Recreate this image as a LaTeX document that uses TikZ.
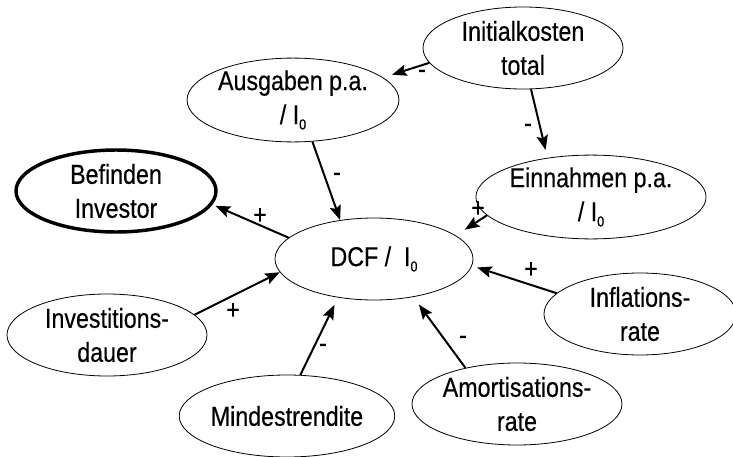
\documentclass[tikz,border=0pt]{standalone}
\usepackage{fontspec}
\setmainfont{Liberation Sans}[FakeStretch=0.85,FakeBold=0.4]
\usetikzlibrary{shapes.geometric,arrows.meta}

\tikzset{every picture/.style={line width=0.75pt}}
\tikzset{
	factor/.style={draw, ellipse, line width=0.6pt, align=center, inner sep=0pt,
		minimum width=150pt, minimum height=61.5pt, font=\fontsize{20.5}{25.5}\selectfont},
	target/.style={factor, line width=2.6pt},
	link/.style={line width=1.5pt, -{Stealth[length=11pt,width=8.5pt,inset=2pt]}},
	sign/.style={inner sep=0pt, font=\fontsize{20.5}{20.5}\selectfont}}
\newcommand{\Inull}{I\raisebox{-4pt}{\fontsize{11}{11}\selectfont 0}}

\begin{document}
\begin{tikzpicture}[x=0.75pt,y=0.75pt,yscale=-1,xscale=1]
		\useasboundingbox (0,0) rectangle (733,457);

		%Shape: Ellipse
		\node [factor] (init) at (523,48) {Initialkosten\\total};
		\node [factor] (aus) at (293,100) {Ausgaben p.a.\\/ \Inull};
		\node [target] (bef) at (116,191) {Befinden\\Investor};
		\node [factor, minimum width=147pt] (ein) at (591,197) {Einnahmen p.a.\\/ \Inull};
		\node [factor, minimum width=148.5pt] (dcf) at (374,259) {DCF /\ \ \Inull};
		\node [factor] (inv) at (107,335) {Investitions-\\dauer};
		\node [factor, minimum width=144pt] (infl) at (640,314) {Inflations-\\rate};
		\node [factor] (amort) at (517,404) {Amortisations-\\rate};
		\node [factor] (mind) at (287,416) {Mindestrendite};

		%Straight Lines
		\draw [link, shorten >=7pt] (init.189) -- (aus.14);
		\draw [link, shorten >=6pt] (init.-79) -- (ein.138);
		\draw [link] (aus.-65) -- (dcf.131);
		\draw [link, shorten >=2.5pt] (dcf.166) -- (bef.-8);
		\draw [link, shorten >=8pt] (ein.190) -- (dcf.16);
		\draw [link, shorten >=4pt] (infl.166) -- (dcf.-4);
		\draw [link, shorten >=7pt] (amort.145) -- (dcf.-44);
		\draw [link, shorten >=6pt] (mind.72) -- (dcf.-133);
		\draw [link] (inv.13) -- (dcf.188);

		% Text Node
		\node [sign] (s1) at (422,74) {-};
		\node [sign] (s2) at (528,128) {-};
		\node [sign] (s3) at (337,177) {-};
		\node [sign] (s4) at (260,216) {+};
		\node [sign] (s5) at (478,209) {+};
		\node [sign] (s6) at (531,270) {+};
		\node [sign] (s7) at (463,340) {-};
		\node [sign] (s8) at (323,348) {-};
		\node [sign] (s9) at (233,311) {+};

\end{tikzpicture}
\end{document}
